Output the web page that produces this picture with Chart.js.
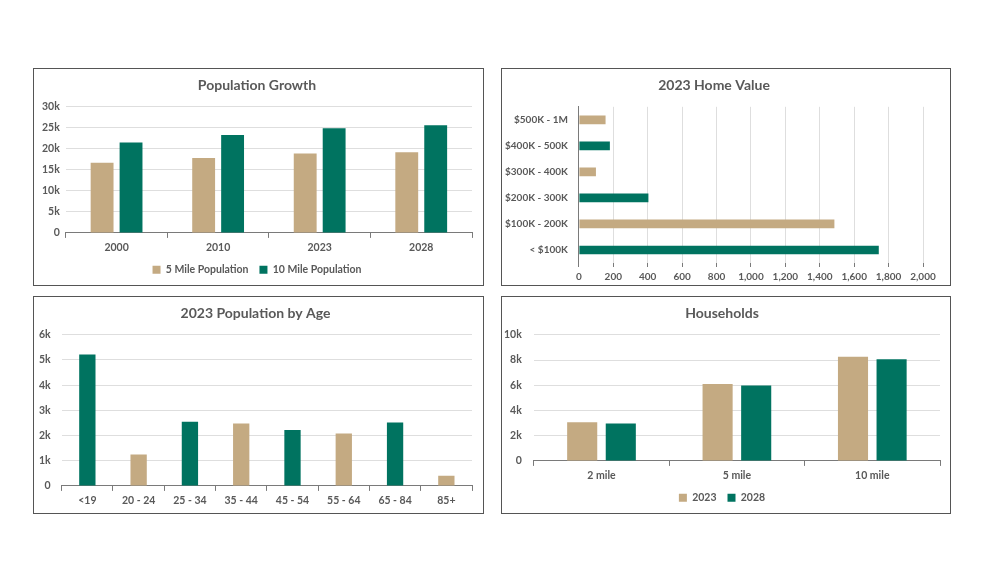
<!DOCTYPE html>
<html>
<head>
<meta charset="utf-8">
<script src="https://cdn.jsdelivr.net/npm/chart.js@4.4.0/dist/chart.umd.min.js"></script>
<style>
    body { margin: 0; background: #ffffff; }
    .panel {
        position: absolute;
        box-sizing: border-box;
        height: 218px;
        border: 1px solid #555555;
        background: #ffffff;
    }
    #panel-growth { left: 33px; top: 68px; width: 451px; }
    #panel-home { left: 501px; top: 68px; width: 450px; }
    #panel-age { left: 33px; top: 296px; width: 451px; }
    #panel-households { left: 501px; top: 296px; width: 450px; }
</style>
</head>
<body>
<div class="panel" id="panel-growth"><canvas id="growth-chart"></canvas></div>
<div class="panel" id="panel-home"><canvas id="home-chart"></canvas></div>
<div class="panel" id="panel-age"><canvas id="age-chart"></canvas></div>
<div class="panel" id="panel-households"><canvas id="households-chart"></canvas></div>
<script>
    const growthYears = ['2000', '2010', '2023', '2028'];
    const growth5Mile = [16700, 17800, 18900, 19200];
    const growth10Mile = [21500, 23300, 24900, 25600];

    const homeValueBands = ['$500K - 1M', '$400K - 500K', '$300K - 400K', '$200K - 300K', '$100K - 200K', '< $100K'];
    const homeValueCounts = [155, 180, 99, 404, 1485, 1743];

    const ageGroups = ['<19', '20 - 24', '25 - 34', '35 - 44', '45 - 54', '55 - 64', '65 - 84', '85+'];
    const ageCounts = [5220, 1250, 2550, 2480, 2220, 2080, 2520, 400];

    const householdRadius = ['2 mile', '5 mile', '10 mile'];
    const households2023 = [3060, 6100, 8250];
    const households2028 = [2960, 5970, 8060];

    const TAN = '#c4aa82';
    const GREEN = '#007360';
    const TEXT = '#595959';
    const GRID = '#dedede';
    const AXIS = '#7a7a7a';

    Chart.defaults.font.family = 'Lato';
    Chart.defaults.font.size = 10.5;
    Chart.defaults.font.weight = 'bold';
    Chart.defaults.color = TEXT;
    Chart.defaults.animation = false;
    Chart.defaults.maintainAspectRatio = false;

    function kLabel(value) {
        return value === 0 ? '0' : (value / 1000) + 'k';
    }

    // цвет чередуется по столбцам
    function alternate(count, first, second) {
        var colors = [];
        for (var i = 0; i < count; i++) {
            colors.push(i % 2 === 0 ? first : second);
        }
        return colors;
    }

    // Chart.js резервирует padding подписей с двух сторон, убираем лишний
    function trimPadding(scale) {
        var pad = scale.options.ticks.padding;
        if (scale.isHorizontal()) {
            scale.height -= pad;
        } else {
            scale.width -= pad;
        }
    }

    function titleOptions(text) {
        return {
            display: true,
            text: text,
            color: TEXT,
            font: { size: 14, weight: 'bold' },
            padding: { top: 8, bottom: 13 }
        };
    }

    function legendOptions() {
        return {
            display: true,
            position: 'bottom',
            labels: {
                boxWidth: 8,
                boxHeight: 8,
                padding: 11,
                color: TEXT,
                font: { size: 10.5, weight: 'bold' }
            }
        };
    }

    function categoryAxis(padding) {
        return {
            grid: {
                display: true,
                drawOnChartArea: false,
                drawTicks: true,
                tickLength: 5,
                color: AXIS,
                offset: true
            },
            border: { display: true, color: AXIS },
            ticks: { padding: padding, color: TEXT, maxRotation: 0 },
            afterFit: trimPadding
        };
    }

    function valueAxis(max, step, padding) {
        return {
            min: 0,
            max: max,
            ticks: { stepSize: step, callback: kLabel, padding: padding, color: TEXT },
            grid: { color: GRID, drawTicks: false },
            border: { display: false },
            afterFit: trimPadding
        };
    }

    /******************* Population Growth *********************/

    new Chart(document.getElementById('growth-chart'), {
        type: 'bar',
        data: {
            labels: growthYears,
            datasets: [
                { label: '5 Mile Population', data: growth5Mile, backgroundColor: TAN,
                  categoryPercentage: 0.57, barPercentage: 0.79 },
                { label: '10 Mile Population', data: growth10Mile, backgroundColor: GREEN,
                  categoryPercentage: 0.57, barPercentage: 0.79 }
            ]
        },
        options: {
            layout: { padding: { left: 8, right: 11, bottom: 0 } },
            plugins: {
                title: titleOptions('Population Growth'),
                legend: legendOptions(),
                tooltip: { enabled: false }
            },
            scales: {
                x: categoryAxis(3),
                y: valueAxis(30000, 5000, 6)
            }
        }
    });

    /******************* Home Value *********************/

    new Chart(document.getElementById('home-chart'), {
        type: 'bar',
        data: {
            labels: homeValueBands,
            datasets: [{
                label: '2023 Home Value',
                data: homeValueCounts,
                backgroundColor: alternate(homeValueBands.length, TAN, GREEN),
                categoryPercentage: 1,
                barPercentage: 0.333
            }]
        },
        options: {
            indexAxis: 'y',
            layout: { padding: { left: 3, right: 27, bottom: 2 } },
            plugins: {
                title: titleOptions('2023 Home Value'),
                legend: { display: false },
                tooltip: { enabled: false }
            },
            scales: {
                x: {
                    min: 0,
                    max: 2000,
                    ticks: {
                        stepSize: 200,
                        padding: 4,
                        color: TEXT,
                        font: { size: 10 },
                        maxRotation: 0,
                        autoSkip: false,
                        callback: (v) => v.toLocaleString('en-US')
                    },
                    grid: { color: GRID, tickColor: AXIS, drawTicks: true, tickLength: 4 },
                    border: { display: false },
                    afterFit: trimPadding
                },
                y: {
                    grid: { display: false, drawTicks: false },
                    border: { display: true, color: AXIS },
                    ticks: { padding: 11, color: TEXT, font: { size: 10 } },
                    afterFit: trimPadding
                }
            }
        }
    });

    /******************* Population by Age *********************/

    new Chart(document.getElementById('age-chart'), {
        type: 'bar',
        data: {
            labels: ageGroups,
            datasets: [{
                label: '2023 Population by Age',
                data: ageCounts,
                backgroundColor: alternate(ageGroups.length, GREEN, TAN),
                categoryPercentage: 1,
                barPercentage: 0.318
            }]
        },
        options: {
            layout: { padding: { left: 5, right: 11, bottom: 6 } },
            plugins: {
                title: titleOptions('2023 Population by Age'),
                legend: { display: false },
                tooltip: { enabled: false }
            },
            scales: {
                x: categoryAxis(3.5),
                y: valueAxis(6000, 1000, 11)
            }
        }
    });

    /******************* Households *********************/

    new Chart(document.getElementById('households-chart'), {
        type: 'bar',
        data: {
            labels: householdRadius,
            datasets: [
                { label: '2023', data: households2023, backgroundColor: TAN,
                  categoryPercentage: 0.57, barPercentage: 0.78 },
                { label: '2028', data: households2028, backgroundColor: GREEN,
                  categoryPercentage: 0.57, barPercentage: 0.78 }
            ]
        },
        options: {
            layout: { padding: { left: 2, right: 10, bottom: 0 } },
            plugins: {
                title: titleOptions('Households'),
                legend: legendOptions(),
                tooltip: { enabled: false }
            },
            scales: {
                x: categoryAxis(3),
                y: valueAxis(10000, 2000, 12)
            }
        }
    });
</script>
</body>
</html>
